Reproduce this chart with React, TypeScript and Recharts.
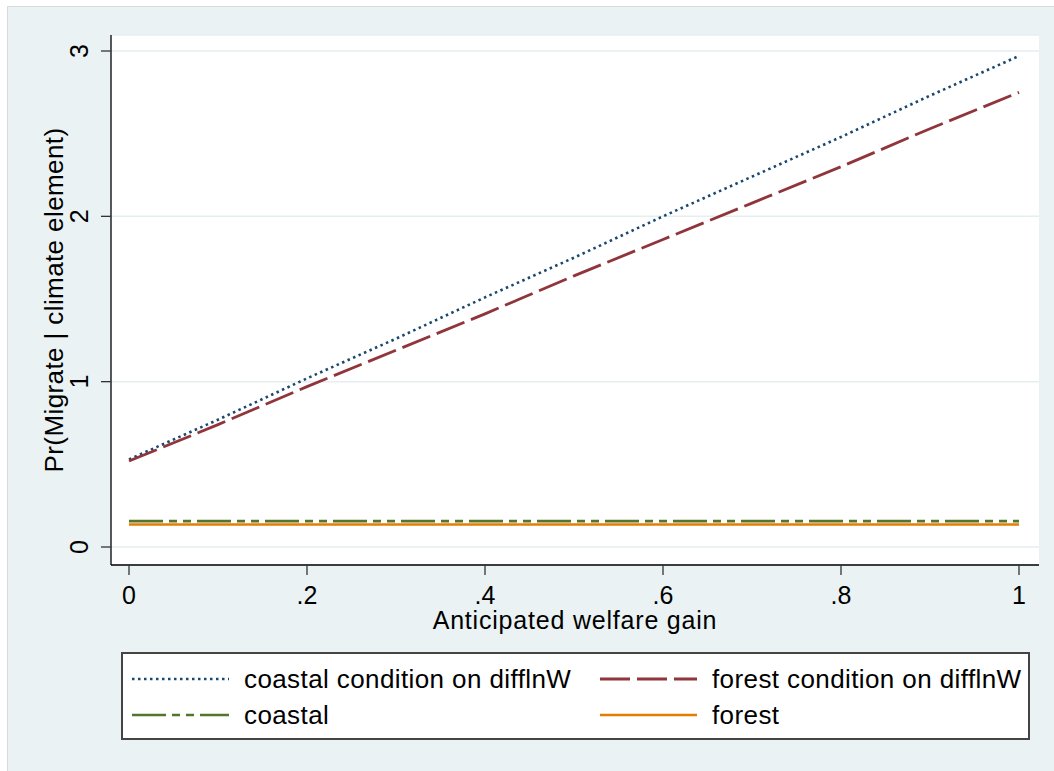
import { LineChart, Line, XAxis, YAxis, CartesianGrid, Legend } from "recharts";

const welfareGain = [0, 0.1, 0.2, 0.3, 0.4, 0.5, 0.6, 0.7, 0.8, 0.9, 1];
const coastalCond = [0.53, 0.77, 1.02, 1.26, 1.51, 1.75, 2.0, 2.24, 2.48, 2.73, 2.97];
const forestCond = [0.52, 0.74, 0.97, 1.19, 1.41, 1.64, 1.86, 2.08, 2.3, 2.53, 2.75];
const coastal = [0.157, 0.157, 0.157, 0.157, 0.157, 0.157, 0.157, 0.157, 0.157, 0.157, 0.157];
const forest = [0.136, 0.136, 0.136, 0.136, 0.136, 0.136, 0.136, 0.136, 0.136, 0.136, 0.136];

const xTicks = [0, 0.2, 0.4, 0.6, 0.8, 1];
const yTicks = [0, 1, 2, 3];

const data = welfareGain.map((x, i) => ({
  x,
  coastalCond: coastalCond[i],
  forestCond: forestCond[i],
  coastal: coastal[i],
  forest: forest[i],
}));

const series = [
  { key: "coastalCond", name: "coastal condition on difflnW", color: "#1a476f", dash: "2.5 3.5", width: 2.6 },
  { key: "forestCond", name: "forest condition on difflnW", color: "#90353b", dash: "30 7", width: 2.8 },
  { key: "coastal", name: "coastal", color: "#55752f", dash: "34 6 8 6 8 6", width: 2.7 },
  { key: "forest", name: "forest", color: "#e37e00", dash: undefined, width: 2.7 },
];

const FONT = '"Liberation Sans", Arial, sans-serif';

// x tick labels: ".2" style like Stata
const fmtX = (v: number) => (v === 0 ? "0" : v === 1 ? "1" : String(v).replace(/^0/, ""));

function YTick(props: any) {
  const { x, y, payload } = props;
  const tx = x - 13;
  return (
    <text x={tx} y={y} textAnchor="middle" transform={`rotate(-90, ${tx}, ${y})`}
      fontFamily={FONT} fontSize={25} fill="#000">
      {payload.value}
    </text>
  );
}

function LegendBox() {
  // drawn in the series order, two columns like Stata's legend
  return (
    <div style={{
      boxSizing: "border-box", width: 909, height: 88, border: "2px solid #444", background: "#fff",
      display: "grid", gridTemplateColumns: "468px 437px", gridAutoRows: "36px", paddingTop: 7,
      fontFamily: FONT, fontSize: 26, letterSpacing: 0.4, color: "#000", whiteSpace: "nowrap",
    }}>
      {series.map((s) => (
        <div key={s.key} style={{ display: "flex", alignItems: "center", paddingLeft: 9 }}>
          <svg width={97} height={8} style={{ marginRight: 15, flexShrink: 0 }}>
            <line x1={0} y1={4} x2={97} y2={4} stroke={s.color} strokeWidth={s.width} strokeDasharray={s.dash} />
          </svg>
          <span>{s.name}</span>
        </div>
      ))}
    </div>
  );
}

export default function App() {
  return (
    <div style={{
      position: "fixed", left: 7, top: 6, width: 1046, height: 764,
      background: "#eaf2f3", borderLeft: "1px solid #d6dada", borderTop: "1px solid #d6dada",
    }}>
      <LineChart width={1046} height={764} data={data}
        margin={{ top: 28, right: 15, left: 0, bottom: 43 }}>
        <CartesianGrid vertical={false} fill="#ffffff" fillOpacity={1} stroke="#e6eef0" strokeWidth={1.5} />
        <XAxis type="number" dataKey="x" domain={[0, 1]} ticks={xTicks} tickFormatter={fmtX}
          padding={{ left: 18, right: 20 }} height={75} tickSize={10} tickMargin={11}
          axisLine={{ stroke: "#000", strokeWidth: 1.3 }} tickLine={{ stroke: "#333", strokeWidth: 1.3 }}
          tick={{ fontFamily: FONT, fontSize: 25, fill: "#000" }}
          label={{
            content: (p: any) => {
              const vb = p.viewBox;
              return (
                <text x={vb.x + vb.width / 2} y={vb.y + 64} textAnchor="middle"
                  fontFamily={FONT} fontSize={25} letterSpacing={0.8} fill="#000">
                  Anticipated welfare gain
                </text>
              );
            },
          }} />
        <YAxis type="number" domain={[0, 3]} ticks={yTicks} width={103} padding={{ top: 16, bottom: 18 }}
          tickSize={10} tickMargin={0} interval={0}
          axisLine={{ stroke: "#000", strokeWidth: 1.3 }} tickLine={{ stroke: "#333", strokeWidth: 1.3 }}
          tick={<YTick />}
          label={{
            content: (p: any) => {
              const vb = p.viewBox;
              const cx = vb.x + 55;
              const cy = vb.y + vb.height / 2;
              return (
                <text x={cx} y={cy} textAnchor="middle" transform={`rotate(-90, ${cx}, ${cy})`}
                  fontFamily={FONT} fontSize={26} letterSpacing={0.4} fill="#000">
                  Pr(Migrate | climate element)
                </text>
              );
            },
          }} />
        {series.map((s) => (
          <Line key={s.key} type="linear" dataKey={s.key} name={s.name} stroke={s.color}
            strokeWidth={s.width} strokeDasharray={s.dash} dot={false} activeDot={false}
            isAnimationActive={false} />
        ))}
        <Legend verticalAlign="bottom" content={<LegendBox />}
          wrapperStyle={{ left: 113, top: 645, bottom: "auto", width: 909, height: 88 }} />
      </LineChart>
    </div>
  );
}
